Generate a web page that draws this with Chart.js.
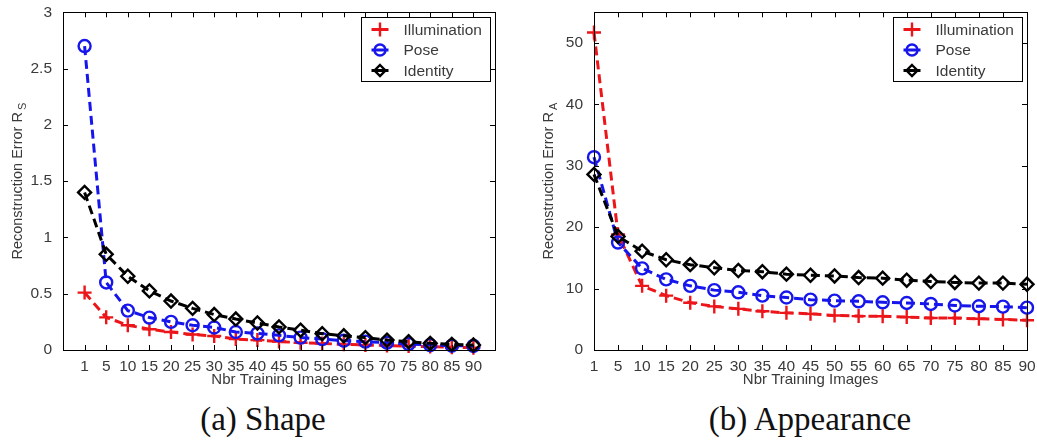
<!DOCTYPE html>
<html><head><meta charset="utf-8">
<script src="https://cdn.jsdelivr.net/npm/chart.js@4/dist/chart.umd.min.js"></script>
<style>
html,body{margin:0;padding:0;background:#fff}
body{width:1037px;height:442px;overflow:hidden;position:relative}
#c1{position:absolute;left:0;top:0}
#c2{position:absolute;left:520px;top:0}
.cap{position:absolute;top:403px;line-height:1;font-family:"Liberation Serif","Times New Roman",serif;font-size:33px;color:#111;white-space:nowrap;transform:translateX(-50%)}
</style></head><body>
<canvas id="c1" width="520" height="400"></canvas>
<canvas id="c2" width="517" height="400"></canvas>
<div class="cap" style="left:263px">(a) Shape</div>
<div class="cap" style="left:810px">(b) Appearance</div>
<script>
// ---- data ----
const xLabels = ['1','5','10','15','20','25','30','35','40','45','50','55','60','65','70','75','80','85','90'];
const seriesNames = ['Illumination','Pose','Identity'];
// Shape (reconstruction error R_S)
const illumS = [0.51,0.29,0.22,0.185,0.16,0.138,0.124,0.097,0.088,0.075,0.065,0.058,0.05,0.045,0.04,0.035,0.03,0.025,0.021];
const poseS  = [2.70,0.60,0.35,0.288,0.25,0.22,0.20,0.16,0.147,0.13,0.11,0.097,0.082,0.074,0.065,0.053,0.044,0.038,0.036];
const identS = [1.40,0.85,0.655,0.525,0.435,0.37,0.315,0.275,0.24,0.205,0.176,0.145,0.126,0.11,0.088,0.074,0.059,0.05,0.044];
// Appearance (reconstruction error R_A)
const illumA = [51.7,18.8,10.45,8.85,7.7,7.1,6.7,6.3,6.05,5.89,5.63,5.52,5.5,5.36,5.2,5.2,5.09,4.98,4.85];
const poseA  = [31.4,17.5,13.3,11.5,10.45,9.75,9.4,8.85,8.55,8.2,8.04,7.93,7.77,7.66,7.5,7.25,7.13,7.07,6.9];
const identA = [28.6,18.5,16.1,14.7,13.9,13.4,12.95,12.75,12.35,12.17,12.06,11.8,11.7,11.37,11.15,11.0,10.9,10.9,10.7];
const yTicksS = [0,0.5,1,1.5,2,2.5,3];
const yTicksA = [0,10,20,30,40,50];

const FONT = '"Liberation Sans", Arial, Helvetica, sans-serif';
const TXT = '#3a3a3a';
const RED = 'rgb(236,22,26)', BLUE = 'rgb(22,22,236)', BLACK = '#000';
const styles = [
  {color: RED, point: 'cross', r: 7, order: 2},
  {color: BLUE, point: 'circle', r: 6, order: 1},
  {color: BLACK, point: 'rectRot', r: 6.5, order: 0}
];

function makeDataset(i, values, linearX) {
  const s = styles[i];
  return {
    label: seriesNames[i],
    data: linearX ? values.map((v, k) => ({x: k + 1, y: v})) : values,
    borderColor: s.color, backgroundColor: 'rgba(0,0,0,0)',
    borderWidth: 3, borderDash: [9, 5],
    pointStyle: s.point, pointRadius: s.r, pointBorderWidth: 2.4,
    pointBorderColor: s.color, pointBackgroundColor: 'rgba(0,0,0,0)',
    tension: 0, fill: false, order: s.order, clip: false
  };
}

function drawMarker(ctx, style, x, y, r) {
  ctx.beginPath();
  if (style === 'circle') { ctx.arc(x, y, r, 0, Math.PI * 2); }
  else if (style === 'rectRot') { ctx.moveTo(x, y - r); ctx.lineTo(x + r, y); ctx.lineTo(x, y + r); ctx.lineTo(x - r, y); ctx.closePath(); }
  else { ctx.moveTo(x - r, y); ctx.lineTo(x + r, y); ctx.moveTo(x, y - r); ctx.lineTo(x, y + r); }
  ctx.stroke();
}

const matlabPlugin = {
  id: 'matlab',
  afterDraw(chart, args, opts) {
    const ctx = chart.ctx, a = chart.chartArea;
    const xs = chart.scales.x, ys = chart.scales.y;
    ctx.save();
    // frame
    ctx.strokeStyle = '#000'; ctx.lineWidth = 1; ctx.setLineDash([]);
    ctx.strokeRect(Math.round(a.left) + 0.5, Math.round(a.top) + 0.5, Math.round(a.right - a.left), Math.round(a.bottom - a.top));
    // inward ticks on all four sides
    const tl = 5;
    ctx.beginPath();
    xs.ticks.forEach((t, i) => {
      const px = Math.round(xs.getPixelForTick(i)) + 0.5;
      ctx.moveTo(px, a.bottom); ctx.lineTo(px, a.bottom - tl);
      ctx.moveTo(px, a.top); ctx.lineTo(px, a.top + tl);
    });
    ys.ticks.forEach((t, i) => {
      const py = Math.round(ys.getPixelForTick(i)) + 0.5;
      ctx.moveTo(a.left, py); ctx.lineTo(a.left + tl, py);
      ctx.moveTo(a.right, py); ctx.lineTo(a.right - tl, py);
    });
    ctx.stroke();
    // y axis title with subscript
    ctx.save();
    ctx.translate(opts.titleX, (a.top + a.bottom) / 2);
    ctx.rotate(-Math.PI / 2);
    ctx.fillStyle = TXT; ctx.textBaseline = 'middle'; ctx.textAlign = 'left';
    ctx.font = '14.5px ' + FONT;
    const main = 'Reconstruction Error R';
    const wMain = ctx.measureText(main).width;
    ctx.font = '11px ' + FONT;
    const wSub = ctx.measureText(opts.sub).width;
    const start = -(wMain + 2 + wSub) / 2;
    ctx.font = '14.5px ' + FONT;
    ctx.fillText(main, start, 0);
    ctx.font = '11px ' + FONT;
    ctx.fillText(opts.sub, start + wMain + 2, 5);
    ctx.restore();
    // legend box
    const bw = 129, bh = 64;
    const bx = Math.round(a.right - 5 - bw) + 0.5, by = Math.round(a.top + 5) + 0.5;
    ctx.fillStyle = '#fff'; ctx.fillRect(bx, by, bw, bh);
    ctx.strokeStyle = '#000'; ctx.lineWidth = 1; ctx.strokeRect(bx, by, bw, bh);
    ctx.font = '15.5px ' + FONT; ctx.textBaseline = 'middle'; ctx.textAlign = 'left';
    chart.data.datasets.forEach((d, i) => {
      const cy = by + 12 + i * 20.5;
      ctx.strokeStyle = d.borderColor; ctx.lineWidth = 3;
      ctx.beginPath(); ctx.moveTo(bx + 10, cy); ctx.lineTo(bx + 27, cy); ctx.stroke();
      ctx.lineWidth = 2.4;
      drawMarker(ctx, d.pointStyle, bx + 18.5, cy, d.pointStyle === 'cross' ? 7 : 5.5);
      ctx.fillStyle = TXT;
      ctx.fillText(d.label, bx + 42, cy + 1);
    });
    ctx.restore();
  }
};

function tickFont() { return {family: FONT, size: 15.5}; }

// ---- Shape chart ----
new Chart(document.getElementById('c1'), {
  type: 'line',
  data: {datasets: [makeDataset(0, illumS, true), makeDataset(1, poseS, true), makeDataset(2, identS, true)]},
  options: {
    responsive: false, animation: false, devicePixelRatio: 1,
    layout: {padding: {left: 0, right: 25, top: 9, bottom: 0}},
    plugins: {legend: {display: false}, tooltip: {enabled: false}, matlab: {titleX: 18, sub: 'S'}},
    scales: {
      x: {
        type: 'linear', min: 0, max: 20,
        afterBuildTicks: s => { s.ticks = xLabels.map((l, i) => ({value: i + 1})); },
        afterFit: s => { s.height = 50; },
        grid: {display: false}, border: {display: false},
        ticks: {autoSkip: false, maxRotation: 0, padding: -1, color: TXT, font: tickFont(), callback: v => xLabels[v - 1]},
        title: {display: true, text: 'Nbr Training Images', color: TXT, font: {family: FONT, size: 15}, padding: {top: 0, bottom: 11}}
      },
      y: {
        min: 0, max: 3,
        afterBuildTicks: s => { s.ticks = yTicksS.map(v => ({value: v})); },
        afterFit: s => { s.width = 63; },
        grid: {display: false}, border: {display: false},
        ticks: {padding: 3, color: TXT, font: tickFont(), callback: v => String(v)}
      }
    }
  },
  plugins: [matlabPlugin]
});

// ---- Appearance chart ----
new Chart(document.getElementById('c2'), {
  type: 'line',
  data: {labels: xLabels, datasets: [makeDataset(0, illumA, false), makeDataset(1, poseA, false), makeDataset(2, identA, false)]},
  options: {
    responsive: false, animation: false, devicePixelRatio: 1,
    layout: {padding: {left: 0, right: 10, top: 9, bottom: 0}},
    plugins: {legend: {display: false}, tooltip: {enabled: false}, matlab: {titleX: 29, sub: 'A'}},
    scales: {
      x: {
        type: 'category', offset: false,
        afterFit: s => { s.height = 50; },
        grid: {display: false}, border: {display: false},
        ticks: {autoSkip: false, maxRotation: 0, padding: -1, color: TXT, font: tickFont()},
        title: {display: true, text: 'Nbr Training Images', color: TXT, font: {family: FONT, size: 15}, padding: {top: 0, bottom: 11}}
      },
      y: {
        min: 0, max: 55,
        afterBuildTicks: s => { s.ticks = yTicksA.map(v => ({value: v})); },
        afterFit: s => { s.width = 74; },
        grid: {display: false}, border: {display: false},
        ticks: {padding: 3, color: TXT, font: tickFont(), callback: v => String(v)}
      }
    }
  },
  plugins: [matlabPlugin]
});
</script>
</body></html>
